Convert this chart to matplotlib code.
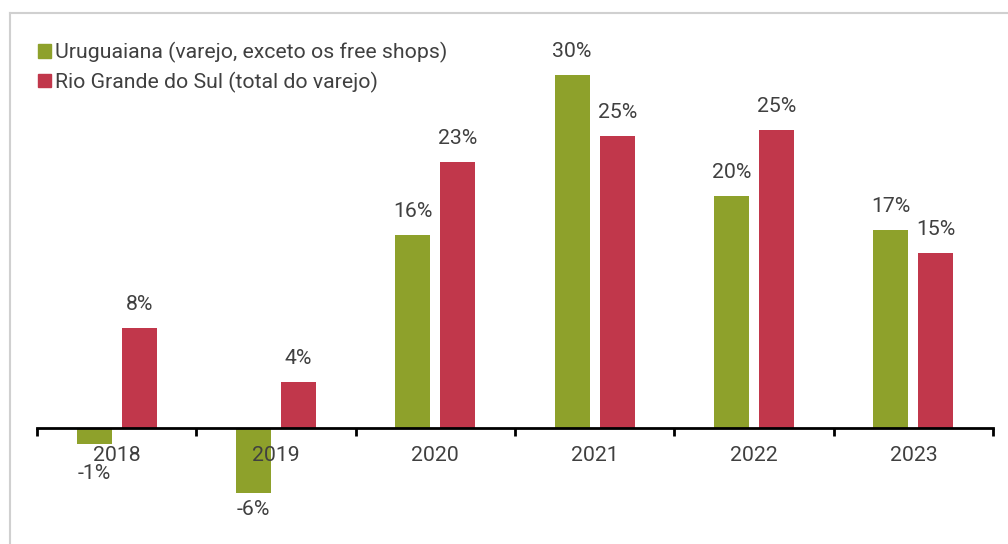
import numpy as np
import matplotlib.pyplot as plt
from matplotlib.lines import Line2D
from matplotlib.patches import Patch

# Values (% growth in retail sales)
years = ['2018', '2019', '2020', '2021', '2022', '2023']
uruguaiana = [-1.3, -5.5, 16.4, 30.0, 19.7, 16.8]
rio_grande = [8.5, 3.9, 22.6, 24.8, 25.3, 14.9]
uru_labels = ['-1%', '-6%', '16%', '30%', '20%', '17%']
rs_labels = ['8%', '4%', '23%', '25%', '25%', '15%']

green = '#8ea12b'
red = '#c1374b'
text_color = '#404040'

plt.rcParams['font.family'] = ['Roboto', 'DejaVu Sans']

fig = plt.figure(figsize=(10.08, 5.44), dpi=100)
ax = fig.add_axes([37 / 1008, 0.0388, 956 / 1008, 0.8676])

x = np.arange(len(years))
w = 0.22
gap = 0.063
ax.bar(x - (w + gap) / 2, uruguaiana, w, color=green, label='Uruguaiana (varejo, exceto os free shops)')
ax.bar(x + (w + gap) / 2, rio_grande, w, color=red, label='Rio Grande do Sul (total do varejo)')

ax.set_xlim(-0.5, len(years) - 0.5)
ax.set_ylim(-8, 32)

# axis line with ticks at category boundaries
for s in ['top', 'right', 'left']:
    ax.spines[s].set_visible(False)
ax.spines['bottom'].set_position(('data', 0))
ax.spines['bottom'].set_linewidth(2)
ax.set_yticks([])
ax.set_xticks(np.arange(len(years) + 1) - 0.5)
ax.set_xticklabels([])
ax.tick_params(axis='x', length=6, width=2, direction='out')
for i, yr in enumerate(years):
    ax.annotate(yr, (i, 0), xytext=(0, -27), textcoords='offset pixels',
                ha='center', va='center', fontsize=15.3, color=text_color)

px_per_unit = ax.transData.transform((0, 1))[1] - ax.transData.transform((0, 0))[1]

def put_labels(xs, vals, labels):
    for xi, v, lab in zip(xs, vals, labels):
        if v >= 0:
            ax.annotate(lab, (xi, v), xytext=(0, 14), textcoords='offset pixels',
                        ha='center', va='bottom', fontsize=15.3, color=text_color)
        else:
            off = max(7, 36 - abs(v) * px_per_unit)
            ax.annotate(lab, (xi, v), xytext=(0, -off), textcoords='offset pixels',
                        ha='center', va='top', fontsize=15.3, color=text_color)

put_labels(x - (w + gap) / 2, uruguaiana, uru_labels)
put_labels(x + (w + gap) / 2, rio_grande, rs_labels)

handles = [Patch(color=green), Patch(color=red)]
leg = fig.legend(handles, ['Uruguaiana (varejo, exceto os free shops)',
                           'Rio Grande do Sul (total do varejo)'],
                 loc='upper left', bbox_to_anchor=(38 / 1008, 1 - 42 / 544),
                 frameon=False, fontsize=15.3, handlelength=0.6, handleheight=0.6,
                 handletextpad=0.2, labelspacing=0.4, borderaxespad=0, borderpad=0)
for t in leg.get_texts():
    t.set_color(text_color)

# light grey frame around the chart
fig.add_artist(Line2D([10 / 1008, 10 / 1008], [0, 1 - 12.5 / 544], color='#d0d0d0', lw=1.5))
fig.add_artist(Line2D([10 / 1008, 1], [1 - 12.5 / 544, 1 - 12.5 / 544], color='#d0d0d0', lw=1.5))

fig.savefig('out.png', dpi=100)
